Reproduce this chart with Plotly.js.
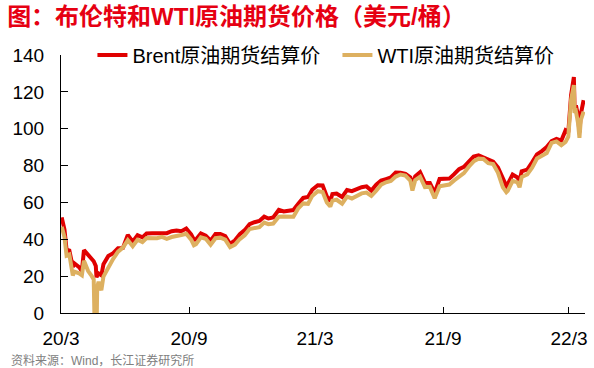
<!DOCTYPE html>
<html><head><meta charset="utf-8">
<script src="https://cdn.plot.ly/plotly-3.0.1.min.js"></script>
<style>html,body{margin:0;padding:0;background:#fff;}#chart{width:594px;height:368px;}</style>
</head><body><div id="chart"></div>
<script>
const dates = [
"2020-03-02","2020-03-06","2020-03-09","2020-03-13","2020-03-18","2020-03-20","2020-03-27","2020-03-31",
"2020-04-03","2020-04-09","2020-04-14","2020-04-17","2020-04-20","2020-04-21","2020-04-22","2020-04-24","2020-04-28",
"2020-05-01","2020-05-08","2020-05-15","2020-05-22","2020-05-29","2020-06-05","2020-06-12","2020-06-19","2020-06-26",
"2020-07-02","2020-07-10","2020-07-17","2020-07-24","2020-07-31","2020-08-07","2020-08-14","2020-08-21","2020-08-28",
"2020-09-04","2020-09-08","2020-09-11","2020-09-18","2020-09-25","2020-10-02","2020-10-09","2020-10-16","2020-10-23","2020-10-30",
"2020-11-06","2020-11-13","2020-11-20","2020-11-27","2020-12-04","2020-12-11","2020-12-18","2020-12-24","2020-12-31",
"2021-01-08","2021-01-15","2021-01-22","2021-01-29","2021-02-05","2021-02-12","2021-02-19","2021-02-25",
"2021-03-05","2021-03-12","2021-03-18","2021-03-23","2021-03-26","2021-04-01","2021-04-09","2021-04-16","2021-04-23","2021-04-30",
"2021-05-07","2021-05-14","2021-05-21","2021-05-28","2021-06-04","2021-06-11","2021-06-18","2021-06-25",
"2021-07-02","2021-07-09","2021-07-16","2021-07-19","2021-07-23","2021-07-30","2021-08-06","2021-08-13","2021-08-20","2021-08-27",
"2021-09-03","2021-09-10","2021-09-17","2021-09-24","2021-10-01","2021-10-08","2021-10-15","2021-10-22","2021-10-29",
"2021-11-05","2021-11-12","2021-11-19","2021-11-26","2021-12-01","2021-12-03","2021-12-10","2021-12-17","2021-12-20","2021-12-23","2021-12-31",
"2022-01-07","2022-01-14","2022-01-21","2022-01-28","2022-02-04","2022-02-11","2022-02-18","2022-02-24","2022-02-28",
"2022-03-02","2022-03-04","2022-03-08","2022-03-09","2022-03-11","2022-03-14","2022-03-16","2022-03-18","2022-03-22"
];
const brent = [
51.90,45.27,34.36,33.85,24.88,26.98,24.93,22.74,
34.11,31.48,29.60,28.08,25.57,19.33,20.37,21.44,20.46,
26.44,30.97,32.50,35.13,35.33,42.30,38.73,42.19,41.02,
43.14,43.24,43.14,43.34,43.30,44.40,44.80,44.35,45.81,
42.66,39.78,39.83,43.15,41.92,39.27,42.85,42.93,41.77,37.46,
39.45,42.78,44.96,48.18,49.25,49.97,52.26,51.29,51.80,
55.99,55.10,55.41,55.88,59.34,62.43,62.91,66.88,
69.36,69.22,63.28,60.79,64.57,64.86,62.95,66.77,66.11,67.25,
68.28,68.71,66.44,69.63,71.89,72.69,73.51,76.18,
76.17,75.55,73.59,68.62,74.10,76.33,70.70,70.59,65.18,72.70,
72.61,72.92,75.34,78.09,79.28,82.39,84.86,85.53,84.38,
82.74,82.17,78.89,72.72,68.87,69.88,75.15,73.52,71.52,76.85,77.78,
81.75,86.06,87.89,90.03,93.27,94.44,93.54,99.08,97.97,
112.93,118.11,127.98,111.14,112.67,106.90,98.02,107.93,115.48
];
const wti = [
46.75,41.28,31.13,31.73,20.37,22.43,21.51,20.48,
28.34,22.76,20.11,18.27,-37.63,10.01,13.78,16.94,12.34,
19.78,24.74,29.43,33.25,35.49,39.55,36.26,39.75,38.49,
40.65,40.55,40.59,41.29,40.27,41.22,42.01,42.34,42.97,
39.77,36.76,37.33,41.11,40.25,37.05,40.60,40.88,39.85,35.79,
37.14,40.13,42.15,45.53,46.26,46.57,49.10,48.23,48.52,
52.24,52.36,52.27,52.20,56.85,59.47,59.24,63.53,
66.09,65.61,60.00,57.76,60.97,61.45,59.32,63.13,62.14,63.58,
64.90,65.37,63.58,66.32,69.62,70.91,71.64,74.05,
75.16,74.56,71.81,66.42,72.07,73.95,68.28,68.44,62.32,68.74,
69.29,69.72,71.97,73.98,75.88,79.35,82.28,83.76,83.57,
81.27,80.79,76.10,68.15,65.57,66.26,71.67,70.86,68.23,73.79,75.21,
78.90,83.82,85.14,86.82,92.31,93.10,91.07,92.81,95.72,
110.60,115.68,123.70,108.70,109.33,103.01,95.04,104.70,109.27
];
const seriesNames = ["Brent原油期货结算价","WTI原油期货结算价"];
const tickVals = ["2020-03-01","2020-09-01","2021-03-01","2021-09-01","2022-03-01"];
const tickText = ["20/3","20/9","21/3","21/9","22/3"];
const titleText = "图：布伦特和WTI原油期货价格（美元/桶）";
const sourceText = "资料来源：Wind，长江证券研究所";

const fam = "Liberation Sans, Arial, Noto Sans CJK SC, sans-serif";
const traces = [
  {x: dates, y: brent, name: seriesNames[0], type: "scatter", mode: "lines",
   line: {color: "#E00000", width: 4}},
  {x: dates, y: wti, name: seriesNames[1], type: "scatter", mode: "lines",
   line: {color: "#DDB060", width: 4}}
];
const layout = {
  width: 594, height: 368,
  margin: {l: 61, r: 9, t: 55, b: 55},
  paper_bgcolor: "#fff", plot_bgcolor: "#fff",
  showlegend: true,
  font: {family: fam, color: "#000"},
  title: {text: titleText, x: 0.012, xref: "container", xanchor: "left",
          y: 0.955, yref: "container", yanchor: "middle",
          font: {family: "Liberation Sans, Noto Sans CJK SC, sans-serif", size: 24, color: "#E60012", weight: "bold"}},
  legend: {orientation: "h", x: 0.06, xanchor: "left", y: 1.0, yanchor: "middle",
           font: {size: 20, color: "#000", family: fam}, itemwidth: 30,
           bgcolor: "rgba(0,0,0,0)", entrywidth: 200, tracegroupgap: 0},
  xaxis: {type: "date", range: ["2020-03-01", "2022-03-24"],
          tickvals: tickVals, ticktext: tickText,
          ticks: "inside", ticklen: 6, tickcolor: "#000", showline: true, linecolor: "#000", linewidth: 1,
          showgrid: false, zeroline: false, tickfont: {size: 19, color: "#000", family: fam},
          ticklabelstandoff: 8},
  yaxis: {range: [0, 140], dtick: 20, tick0: 0,
          ticks: "inside", ticklen: 7, tickcolor: "#000", showline: true, linecolor: "#000", linewidth: 1,
          showgrid: false, zeroline: false, tickfont: {size: 19, color: "#000", family: fam},
          ticklabelstandoff: 12},
  annotations: [{text: sourceText, xref: "paper", yref: "paper", x: -0.1, y: -0.185,
                 xanchor: "left", yanchor: "middle", showarrow: false,
                 font: {size: 12, color: "#808080", family: fam}}]
};
Plotly.newPlot("chart", traces, layout, {displayModeBar: false, staticPlot: true});
</script></body></html>
